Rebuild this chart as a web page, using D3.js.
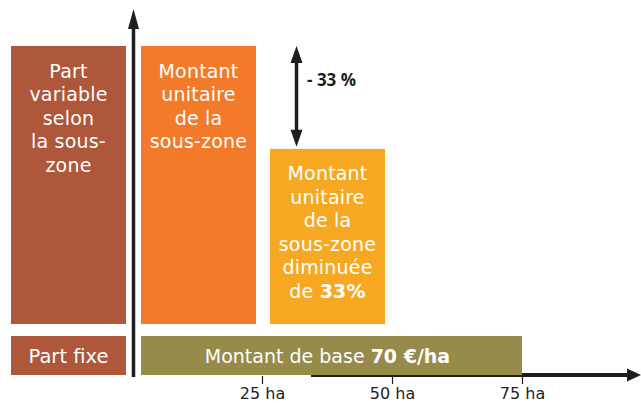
<!DOCTYPE html>
<html><head><meta charset="utf-8">
<script src="https://cdn.jsdelivr.net/npm/d3@7"></script>
<style>
html,body{margin:0;padding:0;background:#fff;}
svg{display:block;font-family:"DejaVu Sans",sans-serif;}
</style></head>
<body><svg id="c" width="641" height="403"></svg>
<script>
// ---- data ----
const zoneStart = [0, 25];
const zoneEnd = [25, 50];
const variableValues = [100, 63];            // relative unit amount of the variable part
const zoneLabels = [
  ["Montant", "unitaire", "de la", "sous-zone"],
  ["Montant", "unitaire", "de la", "sous-zone", "diminuée", "de |33%"]
];
const baseRange = [0, 75];
const baseAmount = 70;                        // €/ha
const baseLabel = ["Montant de base ", "70 €/ha"];
const legendLabels = [["Part", "variable", "selon", "la sous-", "zone"], ["Part fixe"]];
const xTicks = [25, 50, 75];
const xTickLabels = ["25 ha", "50 ha", "75 ha"];
const reductionLabel = "- 33 %";

(function () {
// ---- styles ----
const colVariable = "#AE573A", colZone = ["#F27A29", "#F7A823"], colBase = "#978B4C", ink = "#1e1e1e";

const svg = d3.select("#c");
const x = d3.scaleLinear().domain([0, 97]).range([132, 636.4]);
const yVar = d3.scaleLinear().domain([0, 100]).range([324, 46]);
const yBase = d3.scaleLinear().domain([0, baseAmount]).range([375, 336]);
const lineH = 23.5, fs = 19, ls = 0.2;

// x axis line (behind bars)
svg.append("line").attr("x1", 311).attr("x2", 630).attr("y1", 375).attr("y2", 375)
  .attr("stroke", ink).attr("stroke-width", 4);
svg.append("path").attr("d", "M641,375 L627,368.5 L627,381.5 Z").attr("fill", ink);

// legend column
const legX0 = 11, legX1 = 126;
svg.append("rect").attr("x", legX0).attr("width", legX1 - legX0)
  .attr("y", yVar(100)).attr("height", yVar(0) - yVar(100)).attr("fill", colVariable);
svg.append("rect").attr("x", legX0).attr("width", legX1 - legX0)
  .attr("y", yBase(baseAmount)).attr("height", yBase(0) - yBase(baseAmount)).attr("fill", colVariable);
const lt = svg.append("text").attr("fill", "#fff").attr("font-size", fs).attr("letter-spacing", ls).attr("text-anchor", "middle");
legendLabels[0].forEach((l, i) => lt.append("tspan").attr("x", (legX0 + legX1) / 2).attr("y", yVar(100) + 31.5 + i * lineH).text(l));
svg.append("text").attr("fill", "#fff").attr("font-size", 19.5).attr("text-anchor", "middle")
  .attr("x", (legX0 + legX1) / 2).attr("y", yBase(baseAmount) + 26.5).text(legendLabels[1][0]);

// variable bars
const insetL = [9, 8], insetR = [6, 7];
zoneStart.forEach((s, i) => {
  const x0 = x(s) + insetL[i], x1 = x(zoneEnd[i]) - insetR[i];
  svg.append("rect").attr("x", x0).attr("width", x1 - x0)
    .attr("y", yVar(variableValues[i])).attr("height", yVar(0) - yVar(variableValues[i]))
    .attr("fill", colZone[i]);
  const t = svg.append("text").attr("fill", "#fff").attr("font-size", fs).attr("letter-spacing", ls).attr("text-anchor", "middle");
  zoneLabels[i].forEach((l, j) => {
    const ts = t.append("tspan").attr("x", (x0 + x1) / 2).attr("y", yVar(variableValues[i]) + 31.5 + j * lineH);
    const parts = l.split("|");
    ts.text(parts[0]);
    if (parts[1]) t.append("tspan").attr("font-weight", "bold").text(parts[1]);
  });
});

// base bar
const bx0 = x(baseRange[0]) + 9, bx1 = x(baseRange[1]);
svg.append("rect").attr("x", bx0).attr("width", bx1 - bx0)
  .attr("y", yBase(baseAmount)).attr("height", yBase(0) - yBase(baseAmount)).attr("fill", colBase);
const bt = svg.append("text").attr("fill", "#fff").attr("font-size", 19).attr("text-anchor", "middle")
  .attr("x", (bx0 + bx1) / 2 - 4).attr("y", yBase(baseAmount) + 26.5);
bt.append("tspan").text(baseLabel[0]);
bt.append("tspan").attr("font-weight", "bold").text(baseLabel[1]);

// y axis
svg.append("line").attr("x1", 133.5).attr("x2", 133.5).attr("y1", 26).attr("y2", 377)
  .attr("stroke", ink).attr("stroke-width", 3.5);
svg.append("path").attr("d", "M133.5,9 L128,29 L139,29 Z").attr("fill", ink);

// x ticks
const ax = svg.append("g").attr("transform", "translate(0,376)")
  .call(d3.axisBottom(x).tickValues(xTicks).tickSize(8).tickFormat((d, i) => xTickLabels[i]));
ax.select(".domain").remove();
ax.selectAll(".tick line").attr("stroke", ink).attr("stroke-width", 1.2);
ax.selectAll(".tick text").attr("fill", ink).attr("font-size", 16)
  .attr("font-family", "DejaVu Sans, sans-serif").attr("dy", 0).attr("y", 23);

// reduction arrow
const arX = 296.5, arTop = yVar(variableValues[0]), arBot = yVar(variableValues[1]) - 2;
svg.append("line").attr("x1", arX).attr("x2", arX).attr("y1", arTop + 12).attr("y2", arBot - 12)
  .attr("stroke", ink).attr("stroke-width", 3.5);
svg.append("path").attr("d", `M${arX},${arTop} L${arX - 6},${arTop + 17} L${arX + 6},${arTop + 17} Z`).attr("fill", ink);
svg.append("path").attr("d", `M${arX},${arBot} L${arX - 6},${arBot - 17} L${arX + 6},${arBot - 17} Z`).attr("fill", ink);
svg.append("text").attr("x", 307).attr("y", 86).attr("font-size", 17).attr("font-weight", "bold")
  .attr("font-family", "Open Sans, sans-serif").attr("fill", ink).text(reductionLabel);
})();
</script></body></html>
